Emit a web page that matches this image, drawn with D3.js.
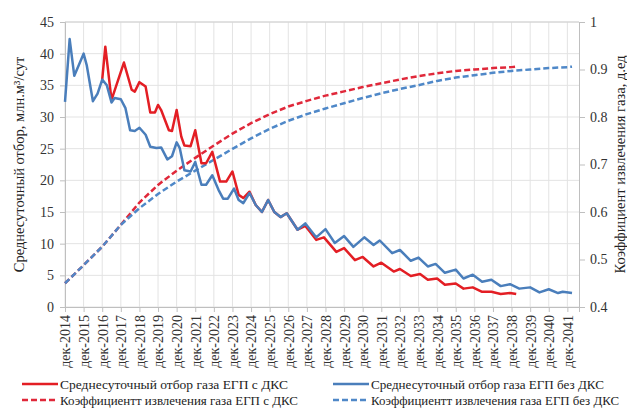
<!DOCTYPE html>
<html><head><meta charset="utf-8">
<script src="https://cdn.jsdelivr.net/npm/d3@7"></script>
<style>html,body{margin:0;padding:0;background:#fff;}</style>
</head>
<body><svg id="c" width="627" height="413"></svg>
<script>
// ---- data ----
const yearLabels = ["дек-2014","дек-2015","дек-2016","дек-2017","дек-2018","дек-2019","дек-2020","дек-2021","дек-2022","дек-2023","дек-2024","дек-2025","дек-2026","дек-2027","дек-2028","дек-2029","дек-2030","дек-2031","дек-2032","дек-2033","дек-2034","дек-2035","дек-2036","дек-2037","дек-2038","дек-2039","дек-2040","дек-2041"];
const leftTicks = [0,5,10,15,20,25,30,35,40,45];
const rightTicks = [0.4,0.5,0.6,0.7,0.8,0.9,1];

// months since дек-2014 and daily production (млн.м3/сут), without compressor
const blueMonths = [0,3,6,12,14,18,21,24,27,30,32,36,39,42,45,48,52,55,59,62,66,69,72,74,77,81,84,88,91,95,99,102,105,109,112,115,119,123,127,131,135,139,143,150,155,162,168,174,180,186,193,199,203,211,216,223,228,234,239,245,252,257,263,269,275,281,287,293,300,306,312,318,321,327];
const blueValues = [32.4,42.3,36.5,40.0,38.2,32.5,33.7,35.9,35.0,32.3,33.0,32.8,31.4,27.9,27.8,28.3,27.2,25.3,25.1,25.2,23.3,23.8,26.0,25.1,21.6,21.4,22.9,19.3,19.3,20.8,18.5,17.1,17.1,18.7,16.9,16.4,18.0,16.1,15.0,16.9,15.0,14.2,14.8,12.2,13.2,11.0,12.3,10.1,11.2,9.5,11.0,9.8,10.5,8.5,9.0,7.3,7.8,6.4,6.8,5.4,5.9,4.5,5.1,4.0,4.3,3.3,3.6,2.9,3.1,2.3,2.8,2.2,2.4,2.2];

// with compressor station
const redMonths = [24,26,30,38,43,45,48,52,55,58,60,62,67,69,72,75,77,81,84,88,91,95,100,104,108,112,115,119,123,127,131,135,139,143,150,155,158,162,167,175,180,187,192,199,204,212,216,223,229,234,240,245,252,257,263,269,275,281,287,291];
const redValues = [35.9,41.1,32.7,38.6,34.3,34.0,35.5,34.8,30.7,30.7,31.9,31.1,27.9,27.8,31.1,26.9,25.5,25.4,27.9,22.7,22.7,24.5,19.8,19.8,21.4,17.7,17.2,18.2,16.1,15.0,16.9,15.0,14.2,14.8,12.2,12.8,11.9,10.6,11.0,8.7,9.3,7.4,7.9,6.4,7.0,5.6,6.0,4.9,5.2,4.3,4.5,3.5,3.7,2.9,3.1,2.4,2.4,2.05,2.2,2.05];

// recovery factor (д.ед)
const kfBlueMonths = [0,12,24,36,48,60,72,84,96,108,120,132,144,156,168,180,192,204,216,228,240,252,264,276,288,300,312,324,327];
const kfBlueValues = [0.450,0.488,0.527,0.573,0.608,0.638,0.664,0.687,0.710,0.733,0.755,0.775,0.792,0.806,0.818,0.829,0.840,0.850,0.859,0.867,0.876,0.883,0.888,0.893,0.897,0.900,0.903,0.905,0.906];
const kfRedMonths = [0,12,24,36,48,60,72,84,96,108,120,132,144,156,168,180,192,204,216,228,240,252,264,276,288,291];
const kfRedValues = [0.450,0.488,0.527,0.573,0.620,0.657,0.687,0.714,0.740,0.765,0.787,0.806,0.822,0.834,0.845,0.854,0.863,0.871,0.879,0.886,0.892,0.897,0.900,0.903,0.905,0.906];

const legendItems = [
  {text:"Среднесуточный отбор газа ЕГП с ДКС", color:"#e31e24", dash:null, w:228},
  {text:"Коэффициентт извлечения газа ЕГП с ДКС", color:"#e0283a", dash:"6,3", w:238},
  {text:"Среднесуточный отбор газа ЕГП без ДКС", color:"#4a7ebb", dash:null, w:233},
  {text:"Коэффициентт извлечения газа ЕГП без ДКС", color:"#4f88c8", dash:"6,3", w:248}
];

// ---- chart ----
const FONT = "Liberation Serif";
const svg = d3.select("#c");
const L = 65, R = 579, T = 22, B = 307;
const x = d3.scaleLinear().domain([0, 331.5]).range([L, R]);
const yL = d3.scaleLinear().domain([0, 45]).range([B, T]);
const yR = d3.scaleLinear().domain([0.4, 1]).range([B, T]);
const tickMonths = yearLabels.map((d,i)=>i*12);

// grid
const g = svg.append("g");
g.selectAll(".hg").data(leftTicks).join("line")
  .attr("x1",L).attr("x2",R).attr("y1",d=>yL(d)).attr("y2",d=>yL(d))
  .attr("stroke","#e3e3e3").attr("stroke-width",1);
g.selectAll(".vg").data(tickMonths).join("line")
  .attr("x1",d=>x(d)).attr("x2",d=>x(d)).attr("y1",T).attr("y2",B)
  .attr("stroke","#e3e3e3").attr("stroke-width",1);
g.append("line").attr("x1",L).attr("x2",R).attr("y1",T).attr("y2",T).attr("stroke","#d0d0d0");

// axes
const axL = svg.append("g").attr("transform",`translate(${L},0)`)
  .call(d3.axisLeft(yL).tickValues(leftTicks).tickSize(5).tickPadding(6).tickFormat(d3.format("d")));
const axR = svg.append("g").attr("transform",`translate(${R},0)`)
  .call(d3.axisRight(yR).tickValues(rightTicks).tickSize(6).tickPadding(5).tickFormat(d=>d===1?"1":d3.format(".1f")(d)));
const axB = svg.append("g").attr("transform",`translate(0,${B})`)
  .call(d3.axisBottom(x).tickValues(tickMonths).tickSize(5).tickFormat((d,i)=>yearLabels[i]));
axB.selectAll("text").attr("transform","rotate(-90)").attr("text-anchor","end")
  .attr("x",-8).attr("y",0).attr("dy","0.35em");
[axL,axR,axB].forEach(a=>{
  a.attr("font-family",FONT).attr("font-size",14);
  a.selectAll("path,line").attr("stroke","#bfbfbf");
  a.selectAll("text").attr("font-size",14).attr("fill","#333").attr("font-family",FONT);
});

// lines
const line = (ys)=>d3.line().x(d=>x(d[0])).y(d=>ys(d[1]));
const zip = (a,b)=>a.map((v,i)=>[v,b[i]]);
const plot = svg.append("g");
plot.append("path").datum(zip(kfRedMonths,kfRedValues)).attr("d",line(yR))
  .attr("fill","none").attr("stroke",legendItems[1].color).attr("stroke-width",2.5).attr("stroke-dasharray","6,3");
plot.append("path").datum(zip(kfBlueMonths,kfBlueValues)).attr("d",line(yR))
  .attr("fill","none").attr("stroke",legendItems[3].color).attr("stroke-width",2.5).attr("stroke-dasharray","6,3");
plot.append("path").datum(zip(redMonths,redValues)).attr("d",line(yL))
  .attr("fill","none").attr("stroke",legendItems[0].color).attr("stroke-width",2.5).attr("stroke-linejoin","round");
plot.append("path").datum(zip(blueMonths,blueValues)).attr("d",line(yL))
  .attr("fill","none").attr("stroke",legendItems[2].color).attr("stroke-width",2.5).attr("stroke-linejoin","round");

// axis titles
svg.append("text").attr("transform",`translate(19,${(T+B)/2}) rotate(-90)`)
  .attr("text-anchor","middle").attr("dy","0.35em").attr("font-size",14.5)
  .attr("font-family",FONT).attr("fill","#222").text("Среднесуточный отбор, млн.м³/сут");
svg.append("text").attr("transform",`translate(620,${(T+B)/2}) rotate(-90)`)
  .attr("text-anchor","middle").attr("dy","0.35em").attr("font-size",14.5)
  .attr("font-family",FONT).attr("fill","#222").text("Коэффициент извлечения газа, д.ед");

// legend
const legPos = [[22,384],[22,400],[333,384],[333,400]];
legendItems.forEach((it,i)=>{
  const [lx,ly] = legPos[i];
  const lg = svg.append("g");
  lg.append("line").attr("x1",lx).attr("x2",lx+36).attr("y1",ly).attr("y2",ly)
    .attr("stroke",it.color).attr("stroke-width",2.5).attr("stroke-dasharray",it.dash);
  lg.append("text").attr("x",lx+38).attr("y",ly).attr("dy","0.35em").attr("font-size",13)
    .attr("font-family",FONT).attr("fill","#222")
    .attr("textLength",it.w).attr("lengthAdjust","spacingAndGlyphs").text(it.text);
});
</script></body></html>
